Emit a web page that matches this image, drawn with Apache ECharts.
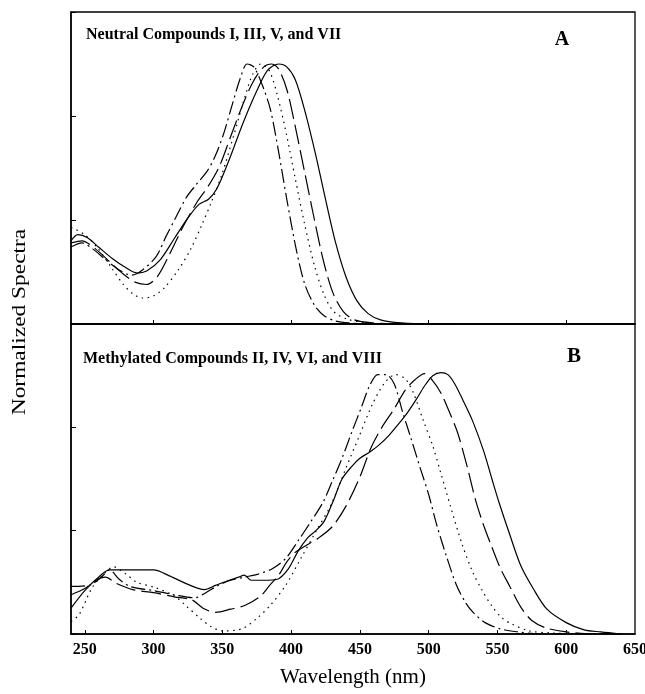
<!DOCTYPE html>
<html>
<head>
<meta charset="utf-8">
<script src="https://cdn.jsdelivr.net/npm/echarts@6/dist/echarts.min.js"></script>
<style>
  html, body { margin: 0; padding: 0; background: #fff; }
  #chart { width: 645px; height: 694px; }
</style>
</head>
<body>
<div id="chart"></div>
<script>
// panel A: neutral compounds, [wavelength nm, normalized absorbance]
const neutralDashDot = [[240,0.74],[248,0.78],[256,0.72],[265,0.62],[275,0.52],[284,0.47],[292,0.52],[302,0.65],[309,0.84],[316,1.02],[324,1.22],[331,1.34],[339,1.47],[345,1.62],[351,1.83],[357,2.10],[363,2.36],[368,2.50],[373,2.47],[379,2.30],[385,2.06],[391,1.65],[397,1.19],[404,0.70],[410,0.38],[417,0.18],[424,0.08],[432,0.03],[442,0.01],[460,0],[520,0]];
const neutralDotted = [[240,0.93],[250,0.86],[260,0.72],[270,0.53],[278,0.38],[285,0.29],[292,0.25],[300,0.27],[308,0.35],[318,0.52],[327,0.72],[335,0.95],[342,1.17],[350,1.45],[358,1.80],[365,2.12],[372,2.40],[378,2.50],[384,2.44],[390,2.20],[397,1.80],[403,1.40],[410,0.95],[417,0.56],[424,0.28],[431,0.12],[440,0.05],[455,0.01],[470,0],[520,0]];
const neutralLongDash = [[240,0.78],[248,0.80],[258,0.72],[268,0.60],[278,0.48],[287,0.40],[295,0.38],[303,0.46],[312,0.68],[322,0.95],[332,1.18],[340,1.33],[348,1.52],[356,1.80],[364,2.08],[372,2.32],[380,2.47],[386,2.50],[391,2.45],[397,2.25],[403,1.90],[410,1.45],[417,1.00],[424,0.58],[431,0.28],[438,0.12],[446,0.04],[460,0.01],[480,0],[520,0]];
const neutralSolid = [[240,0.80],[245,0.86],[252,0.83],[260,0.74],[270,0.63],[280,0.54],[288,0.49],[295,0.51],[305,0.62],[315,0.82],[325,1.02],[333,1.15],[340,1.20],[346,1.30],[355,1.58],[365,1.93],[375,2.24],[383,2.44],[391,2.50],[397,2.47],[403,2.35],[410,2.05],[418,1.62],[425,1.20],[432,0.80],[440,0.45],[448,0.22],[456,0.10],[465,0.04],[480,0.01],[500,0],[520,0]];

// panel B: methylated compounds
const methylDash = [[240,0.46],[253,0.47],[262,0.55],[268,0.62],[275,0.53],[283,0.46],[300,0.42],[315,0.38],[330,0.35],[338,0.40],[347,0.47],[356,0.52],[366,0.55],[376,0.58],[386,0.63],[396,0.73],[405,0.90],[414,1.08],[423,1.27],[430,1.48],[437,1.70],[444,1.95],[451,2.19],[457,2.40],[463,2.51],[469,2.51],[475,2.42],[481,2.15],[487,1.90],[494,1.60],[500,1.35],[506,1.05],[513,0.75],[520,0.48],[527,0.30],[533,0.20],[541,0.11],[552,0.05],[565,0.02],[580,0],[640,0]];
const methylDotted = [[240,0.12],[246,0.19],[255,0.44],[263,0.57],[271,0.65],[280,0.58],[288,0.50],[301,0.45],[315,0.37],[323,0.28],[334,0.15],[342,0.07],[350,0.03],[364,0.05],[375,0.15],[385,0.28],[396,0.47],[407,0.73],[418,0.99],[429,1.25],[440,1.61],[450,1.93],[459,2.22],[468,2.43],[476,2.51],[483,2.47],[489,2.33],[496,2.07],[503,1.82],[509,1.55],[516,1.23],[524,0.88],[532,0.60],[539,0.42],[546,0.27],[553,0.16],[560,0.10],[573,0.03],[590,0.01],[610,0],[640,0]];
const methylLongDash = [[240,0.38],[250,0.44],[258,0.52],[265,0.55],[273,0.49],[285,0.43],[300,0.40],[315,0.36],[328,0.33],[336,0.25],[345,0.21],[356,0.24],[367,0.28],[378,0.37],[385,0.48],[391,0.57],[397,0.70],[403,0.79],[410,0.85],[420,0.93],[430,1.04],[440,1.24],[450,1.52],[458,1.80],[466,2.00],[475,2.18],[483,2.36],[490,2.46],[497,2.52],[503,2.45],[509,2.33],[515,2.15],[521,1.95],[528,1.62],[534,1.30],[540,1.05],[546,0.84],[552,0.64],[559,0.46],[567,0.26],[575,0.13],[585,0.06],[600,0.02],[620,0],[640,0]];
const methylSolid = [[240,0.25],[250,0.42],[260,0.55],[268,0.62],[280,0.62],[300,0.62],[312,0.56],[325,0.48],[337,0.43],[345,0.47],[355,0.52],[362,0.55],[366,0.57],[371,0.52],[380,0.52],[390,0.53],[398,0.63],[405,0.80],[412,0.93],[418,1.00],[424,1.09],[431,1.30],[437,1.50],[444,1.62],[450,1.70],[457,1.76],[464,1.83],[471,1.92],[478,2.03],[485,2.15],[491,2.27],[497,2.40],[503,2.50],[509,2.53],[514,2.51],[519,2.42],[525,2.26],[532,2.06],[540,1.77],[546,1.50],[551,1.28],[559,0.96],[567,0.66],[576,0.44],[586,0.24],[600,0.11],[613,0.04],[625,0.02],[640,0]];

const xTicksTop = [300, 400, 500, 600];
const xTicksBottom = [250, 300, 350, 400, 450, 500, 550, 600];
const xLabels = [250, 300, 350, 400, 450, 500, 550, 600, 650];

const FONT = "'Liberation Serif','Times New Roman',serif";
const DASH_DOT = [14, 4, 2, 4];
const DOTTED = [1.5, 4.5];
const LONG_DASH = [20, 6];

function lineSeries(data, idx, dash) {
  return {
    type: 'line',
    xAxisIndex: idx,
    yAxisIndex: idx,
    data: data,
    symbol: 'none',
    smooth: 0.3,
    silent: true,
    lineStyle: {color: '#000', width: 1.2, type: dash}
  };
}

function yAxisOf(idx) {
  return {
    gridIndex: idx,
    type: 'value',
    min: 0,
    max: 3,
    interval: 1,
    axisLine: {show: true, lineStyle: {color: '#000', width: 1.5}},
    axisTick: {show: true, inside: true, length: 5, lineStyle: {color: '#000'}},
    axisLabel: {show: false},
    splitLine: {show: false}
  };
}

const chart = echarts.init(document.getElementById('chart'));
chart.setOption({
  animation: false,
  backgroundColor: '#fff',
  grid: [
    {left: 71, right: 10, top: 12, height: 312, show: true, borderColor: '#000', borderWidth: 1.3, outerBoundsMode: 'none', containLabel: false},
    {left: 71, right: 10, top: 324, height: 310, show: true, borderColor: '#000', borderWidth: 1.3, outerBoundsMode: 'none', containLabel: false}
  ],
  xAxis: [
    {
      gridIndex: 0, type: 'value', min: 240, max: 650,
      axisLine: {lineStyle: {color: '#000', width: 1.5}},
      axisTick: {show: true, inside: true, length: 4, customValues: xTicksTop, lineStyle: {color: '#000'}},
      axisLabel: {show: false},
      splitLine: {show: false}
    },
    {
      gridIndex: 1, type: 'value', min: 240, max: 650,
      axisLine: {lineStyle: {color: '#000', width: 1.5}},
      axisTick: {show: true, inside: true, length: 4, customValues: xTicksBottom, lineStyle: {color: '#000'}},
      axisLabel: {
        show: true, customValues: xLabels, margin: 8,
        color: '#000', fontFamily: FONT, fontWeight: 'bold', fontSize: 16
      },
      splitLine: {show: false},
      name: 'Wavelength (nm)',
      nameLocation: 'middle',
      nameGap: 33,
      nameTextStyle: {color: '#000', fontFamily: FONT, fontSize: 21}
    }
  ],
  yAxis: [yAxisOf(0), yAxisOf(1)],
  graphic: [
    {type: 'text', x: 86, y: 35, style: {text: 'Neutral Compounds I, III, V, and VII', font: 'bold 16px ' + FONT, fill: '#000', align: 'left', verticalAlign: 'middle'}},
    {type: 'text', x: 562, y: 40, style: {text: 'A', font: 'bold 20px ' + FONT, fill: '#000', align: 'center', verticalAlign: 'middle'}},
    {type: 'text', x: 83, y: 359, style: {text: 'Methylated Compounds II, IV, VI, and VIII', font: 'bold 16px ' + FONT, fill: '#000', align: 'left', verticalAlign: 'middle'}},
    {type: 'text', x: 574, y: 357, style: {text: 'B', font: 'bold 21px ' + FONT, fill: '#000', align: 'center', verticalAlign: 'middle'}},
    {type: 'text', x: 20, y: 322, rotation: Math.PI / 2, scaleX: 1.3,
      style: {text: 'Normalized Spectra', font: '18px ' + FONT, fill: '#000', align: 'center', verticalAlign: 'middle'}}
  ],
  series: [
    lineSeries(neutralDashDot, 0, DASH_DOT),
    lineSeries(neutralDotted, 0, DOTTED),
    lineSeries(neutralLongDash, 0, LONG_DASH),
    lineSeries(neutralSolid, 0, 'solid'),
    lineSeries(methylDash, 1, DASH_DOT),
    lineSeries(methylDotted, 1, DOTTED),
    lineSeries(methylLongDash, 1, LONG_DASH),
    lineSeries(methylSolid, 1, 'solid')
  ]
});
</script>
</body>
</html>
